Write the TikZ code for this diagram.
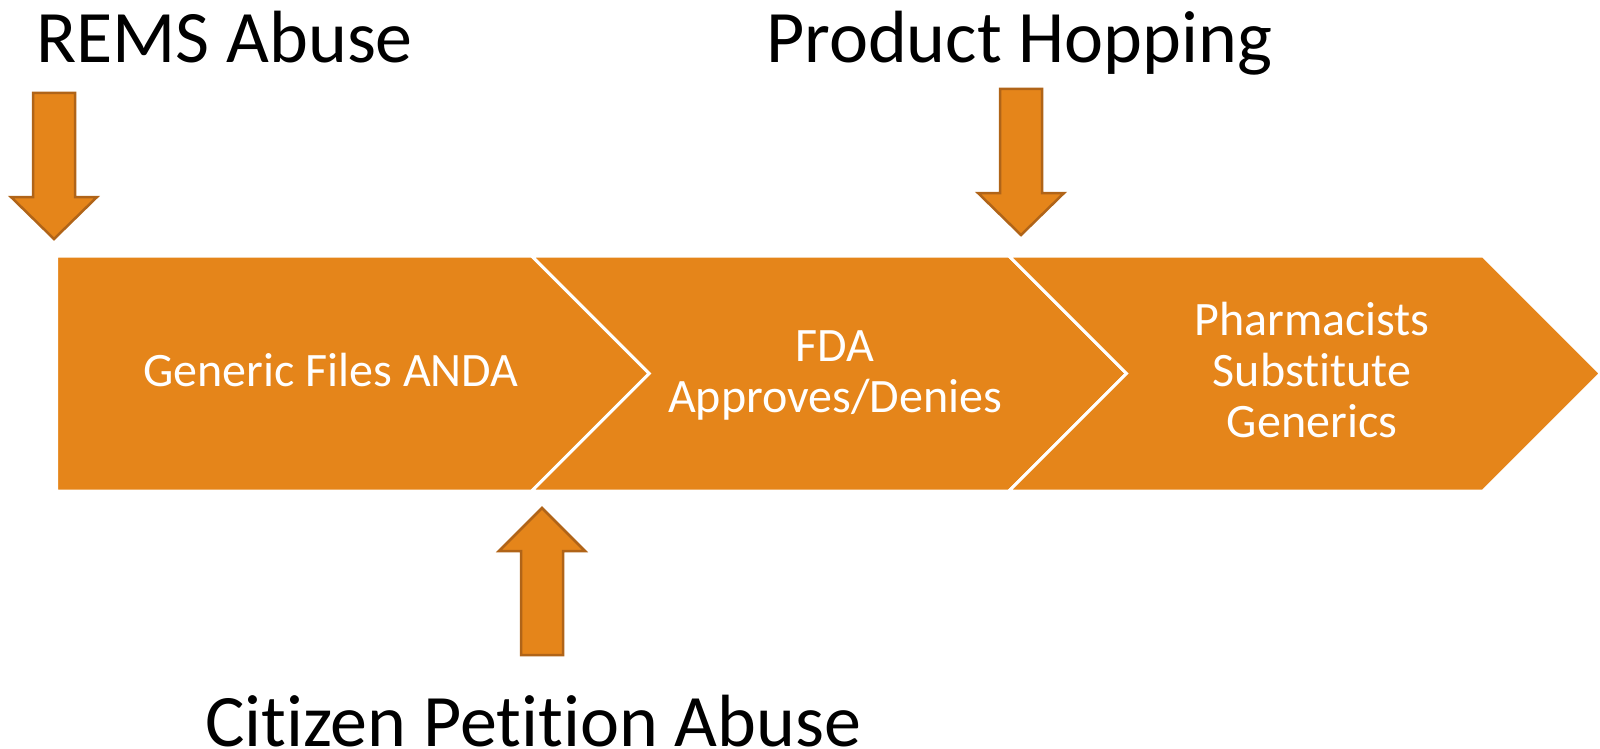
\documentclass[tikz,border=0pt]{standalone}
\usepackage{fontspec}
\setmainfont{Carlito}[Ligatures={NoCommon}]
\definecolor{chev}{HTML}{E5851A}
\definecolor{arrline}{HTML}{B06418}
\begin{document}
\begin{tikzpicture}[x=1pt,y=-1pt,
  chevron/.style={fill=chev,draw=white,line width=3pt,line join=miter},
  blockarrow/.style={fill=chev,draw=arrline,line width=2.5pt,line join=miter},
  bigtext/.style={font=\fontsize{74}{86}\selectfont,text=black,inner sep=0pt,anchor=base west},
  steptext/.style={font=\fontsize{48}{51}\selectfont,text=white,inner sep=0pt,align=center,anchor=base}]
\useasboundingbox (0,0) rectangle (1600,749);
% chevrons
\path[chevron] (56.7,256) -- (531.7,256) -- (649.2,373.5) -- (531.7,491) -- (56.7,491) -- cycle;
\path[chevron] (531.7,256) -- (1009,256) -- (1126.5,373.5) -- (1009,491) -- (531.7,491) -- (649.2,373.5) -- cycle;
\path[chevron] (1009,256) -- (1483,256) -- (1600.5,373.5) -- (1483,491) -- (1009,491) -- (1126.5,373.5) -- cycle;
% block arrows
\path[blockarrow] (33,93) -- (75,93) -- (75,197) -- (97,197) -- (54,239) -- (11,197) -- (33,197) -- cycle;
\path[blockarrow] (1000,89) -- (1042,89) -- (1042,193) -- (1064,193) -- (1021,235) -- (978,193) -- (1000,193) -- cycle;
\path[blockarrow] (542,508) -- (585,551) -- (563,551) -- (563,655) -- (521,655) -- (521,551) -- (499,551) -- cycle;
% texts
\node[steptext] (s1) at (331,386) {Generic Files ANDA};
\node[steptext] (s2) at (835,412) {FDA\\Approves/Denies};
\node[steptext] (s3) at (1312,437) {Pharmacists\\Substitute\\Generics};
\node[bigtext] (rems) at (36,63) {REMS Abuse};
\node[bigtext] (hop) at (766,63) {Product Hopping};
\node[bigtext] (cit) at (205,746) {Citizen Petition Abuse};
\end{tikzpicture}
\end{document}
